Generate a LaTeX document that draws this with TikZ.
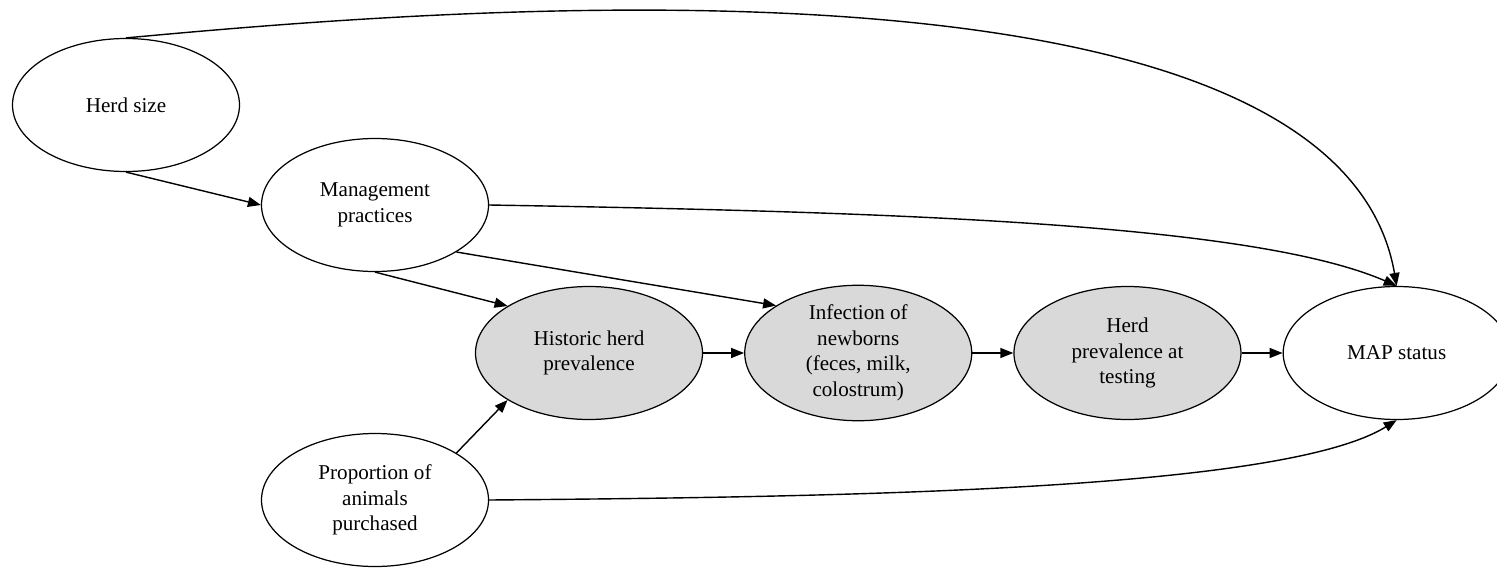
\documentclass[tikz,border=0pt]{standalone}
\usepackage{fontspec}
\setmainfont{Liberation Serif}
\usepackage{tikz}
\usetikzlibrary{shapes.geometric, arrows.meta, positioning}

\begin{document}
\begin{tikzpicture}[
  font=\fontsize{12}{14.5}\selectfont,
  >={Triangle[length=2.6mm, width=2mm]},
  node distance=8.2mm,
  % Observed variables
  obsnode/.style={
    ellipse, draw=black, line width=0.7pt, fill=white,
    minimum width=4.54cm, minimum height=2.66cm, inner sep=0pt, align=center
  },
  % Latent variables
  latnode/.style={
    obsnode, fill=black!15
  },
  % Arrow style
  causal/.style={line width=0.8pt, ->, color=black}
]

\useasboundingbox (0,0) rectangle (29.94,11.36);

% === OBSERVED NODES ===
\node[obsnode] (herd) at (2.52,9.26) {Herd size};
\node[obsnode] (mgmt) at (7.50,7.26) {Management\\practices};
\node[obsnode] (purch) at (7.50,1.36) {Proportion of\\animals\\purchased};

% === LATENT CHAIN ===
\node[latnode] (hist) at (11.78,4.30) {Historic herd\\prevalence};
\node[latnode, right=of hist] (infect) {Infection of\\newborns\\(feces, milk,\\colostrum)};
\node[latnode, right=of infect] (prevt) {Herd\\prevalence at\\testing};
\node[obsnode, right=of prevt] (map) {MAP status};

% === DIRECT EFFECTS ===
\draw[causal] (herd.south) -- (mgmt.west);
\draw[causal] (mgmt.south) -- (hist.150);
\draw[causal] (mgmt.330) -- (infect.150);
\draw[causal] (purch.30) -- (hist.210);

\draw[causal] (hist) -- (infect);
\draw[causal] (infect) -- (prevt);
\draw[causal] (prevt) -- (map);

% === PATHS TO OUTCOME ===
\draw[causal] (herd.north) .. controls +(5.08,0.46) and +(-1.26,7.24) .. (map.north);
\draw[causal] (mgmt.east) .. controls +(8.24,-0.14) and +(-2.86,1.24) .. (map.north);
\draw[causal] (purch.east) .. controls +(7.22,0.06) and +(-2.26,-1.40) .. (map.south);

\end{tikzpicture}
\end{document}
